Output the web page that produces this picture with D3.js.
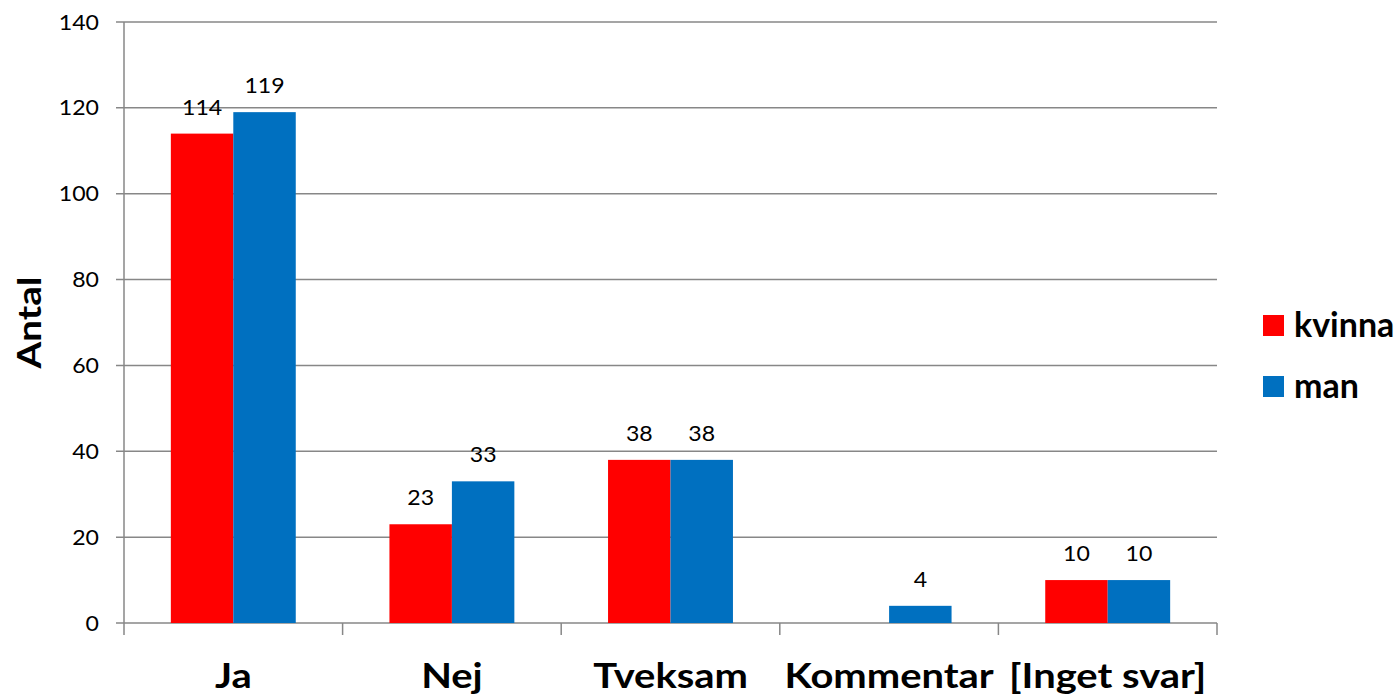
<!DOCTYPE html>
<html>
<head>
<meta charset="utf-8">
<script src="https://cdn.jsdelivr.net/npm/d3@7"></script>
<style>
  body { margin: 0; background: #fff; }
  text { font-family: Lato, "Open Sans", sans-serif; fill: #000; }
</style>
</head>
<body>
<div id="chart"></div>
<script>
var categories = ["Ja", "Nej", "Tveksam", "Kommentar", "[Inget svar]"];
var kvinna = [114, 23, 38, null, 10];
var man = [119, 33, 38, 4, 10];
var seriesNames = ["kvinna", "man"];
var seriesColors = ["#ff0000", "#0070c0"];
var yTicks = [0, 20, 40, 60, 80, 100, 120, 140];

var width = 1398, height = 697;
var margin = {left: 124, right: 181, top: 22, bottom: 74};
var gridColor = "#878787";

var svg = d3.select("#chart").append("svg")
  .attr("width", width)
  .attr("height", height);

var x = d3.scaleBand()
  .domain(categories)
  .range([margin.left, width - margin.right]);

var inner = d3.scaleBand()
  .domain(seriesNames)
  .range([0, x.bandwidth()])
  .paddingInner(0)
  .paddingOuter(0.75);

var y = d3.scaleLinear()
  .domain([0, 140])
  .range([height - margin.bottom, margin.top]);

// gridlines (with little ticks on the left)
svg.append("g")
  .selectAll("line")
  .data(yTicks)
  .enter()
  .append("line")
    .attr("x1", margin.left - 8)
    .attr("x2", width - margin.right)
    .attr("y1", function(d) { return y(d); })
    .attr("y2", function(d) { return y(d); })
    .attr("stroke", gridColor)
    .attr("stroke-width", 1.5);

svg.append("line")
  .attr("x1", margin.left).attr("x2", margin.left)
  .attr("y1", margin.top).attr("y2", y(0))
  .attr("stroke", gridColor)
  .attr("stroke-width", 1.5);

// y tick labels
svg.append("g")
  .selectAll("text")
  .data(yTicks)
  .enter()
  .append("text")
    .attr("transform", function(d) { return "translate(" + (margin.left - 25) + "," + y(d) + ") scale(1.1,1)"; })
    .attr("dy", "0.36em")
    .attr("text-anchor", "end")
    .style("font-size", "21px")
    .text(function(d) { return d; });

// category separators
var boundaries = categories.map(function(c) { return x(c); });
boundaries.push(x(categories[categories.length - 1]) + x.bandwidth());
svg.append("g")
  .selectAll("line")
  .data(boundaries)
  .enter()
  .append("line")
    .attr("x1", function(d) { return d; })
    .attr("x2", function(d) { return d; })
    .attr("y1", y(0))
    .attr("y2", y(0) + 12)
    .attr("stroke", gridColor)
    .attr("stroke-width", 1.5);

// bars + value labels
var allSeries = [kvinna, man];
allSeries.forEach(function(vals, si) {
  var g = svg.append("g");
  var rows = categories.map(function(c, i) { return {cat: c, v: vals[i]}; })
    .filter(function(d) { return d.v != null; });

  g.selectAll("rect")
    .data(rows)
    .enter()
    .append("rect")
      .attr("x", function(d) { return x(d.cat) + inner(seriesNames[si]); })
      .attr("y", function(d) { return y(d.v); })
      .attr("width", inner.bandwidth())
      .attr("height", function(d) { return y(0) - y(d.v); })
      .attr("fill", seriesColors[si]);

  g.selectAll("text")
    .data(rows)
    .enter()
    .append("text")
      .attr("transform", function(d) {
        var cx = x(d.cat) + inner(seriesNames[si]) + inner.bandwidth() / 2;
        return "translate(" + cx + "," + (y(d.v) - 19) + ") scale(1.1,1)";
      })
      .attr("text-anchor", "middle")
      .style("font-size", "21px")
      .text(function(d) { return d.v; });
});

// category labels
svg.append("g")
  .selectAll("text")
  .data(categories)
  .enter()
  .append("text")
    .attr("transform", function(d) { return "translate(" + (x(d) + x.bandwidth() / 2) + ",688) scale(1.14,1)"; })
    .attr("text-anchor", "middle")
    .style("font-size", "35px")
    .style("font-weight", "bold")
    .text(function(d) { return d; });

// y title
svg.append("text")
  .attr("transform", "translate(41," + (margin.top + (y(0) - margin.top) / 2) + ") rotate(-90) scale(1.17,1)")
  .attr("text-anchor", "middle")
  .style("font-size", "33px")
  .style("font-weight", "bold")
  .text("Antal");

// legend
var legend = svg.append("g")
  .selectAll("g")
  .data(seriesNames)
  .enter()
  .append("g")
    .attr("transform", function(d, i) { return "translate(1263," + (315 + i * 61) + ")"; });

legend.append("rect")
  .attr("width", 21)
  .attr("height", 21)
  .attr("fill", function(d, i) { return seriesColors[i]; });

legend.append("text")
  .attr("x", 31)
  .attr("y", 22)
  .style("font-size", "34px")
  .style("font-weight", "bold")
  .text(function(d) { return d; });
</script>
</body>
</html>
